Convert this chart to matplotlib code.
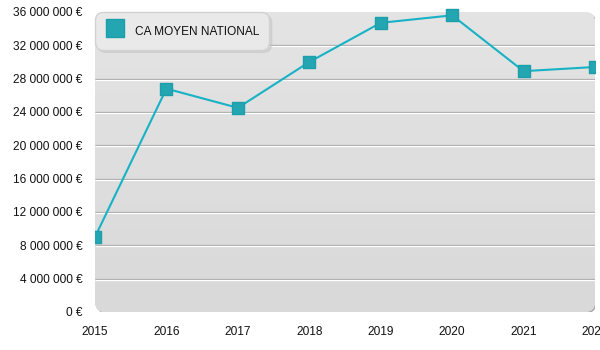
import numpy as np
import matplotlib
matplotlib.use('Agg')
from matplotlib import pyplot as plt
from matplotlib import transforms
from matplotlib.patches import FancyBboxPatch, Rectangle
from matplotlib.lines import Line2D
from matplotlib.markers import MarkerStyle
from matplotlib.ticker import FuncFormatter, MultipleLocator

years = [2015, 2016, 2017, 2018, 2019, 2020, 2021, 2022]
ca_moyen = [9.0e6, 26.8e6, 24.5e6, 30.0e6, 34.7e6, 35.6e6, 28.9e6, 29.4e6]
series_label = 'CA MOYEN NATIONAL'

plt.rcParams['font.family'] = ['Liberation Sans', 'DejaVu Sans']

line_color = '#17b2c5'
marker_color = '#23a6b2'
fs = 8.6

fig = plt.figure(figsize=(6, 3.5), dpi=100)
fig.patch.set_facecolor('white')

# plot panel, in inches
px, py, pw, ph = 0.95, 0.38, 5.0, 3.0
ax = fig.add_axes([px / 6, py / 3.5, pw / 6, ph / 3.5])
ax.set_facecolor('none')
for s in ax.spines.values():
    s.set_visible(False)

# rounded panel with a soft shadow on the right and bottom
shadow = FancyBboxPatch((px + 0.012, py - 0.012), pw, ph,
                        boxstyle='round,pad=0,rounding_size=0.1',
                        transform=fig.dpi_scale_trans, facecolor='#a9a9a9',
                        edgecolor='none', zorder=0)
panel = FancyBboxPatch((px, py), pw, ph,
                       boxstyle='round,pad=0,rounding_size=0.1',
                       transform=fig.dpi_scale_trans, facecolor='#e0e0e0',
                       edgecolor='none', zorder=0.1)
ax.add_patch(shadow)
ax.add_patch(panel)

grad = np.linspace(0, 1, 256).reshape(-1, 1)
img = ax.imshow(grad, extent=[0, 1, 0, 1], transform=ax.transAxes,
                aspect='auto', cmap=matplotlib.colors.LinearSegmentedColormap.from_list(
                    'panel', ['#d9d9d9', '#e4e4e4']),
                origin='lower', zorder=0.2)
img.set_clip_path(panel)

ax.set_xlim(2015, 2022)
ax.set_ylim(0, 36e6)

# grid lines: gray line with a white highlight underneath
grid_vals = np.arange(4e6, 36e6, 4e6)
below = transforms.offset_copy(ax.transData, fig=fig, x=0, y=-1, units='dots')
ax.hlines(grid_vals, 2015, 2022, colors='#a8a8a8', lw=0.9, zorder=0.5)
ax.hlines(grid_vals, 2015, 2022, colors='white', lw=0.9, zorder=0.5,
          transform=below)

# series, clipped only at the left/right edges of the panel
clip = Rectangle((0, -0.5), 1, 2, transform=ax.transAxes)
sq = MarkerStyle('s', joinstyle='round')
line, = ax.plot(years, ca_moyen, color=line_color, lw=1.5, zorder=2)
pts, = ax.plot(years, ca_moyen, linestyle='none', marker=sq, markersize=8.2,
               markerfacecolor=marker_color, markeredgecolor='#1e9eaa',
               markeredgewidth=1.0, zorder=3)
line.set_clip_path(clip)
pts.set_clip_path(clip)

ax.yaxis.set_major_locator(MultipleLocator(4e6))
ax.yaxis.set_major_formatter(FuncFormatter(
    lambda v, pos: '{:,.0f} €'.format(v).replace(',', ' ')))
ax.set_xticks(years)
ax.set_xticklabels([str(y) for y in years])
ax.tick_params(axis='y', length=0, pad=9, labelsize=fs, labelcolor='#111111')
ax.tick_params(axis='x', length=0, pad=10, labelsize=fs, labelcolor='#111111')

legend_handle = Line2D([], [], linestyle='none', marker=sq, markersize=13.5,
                       markerfacecolor=marker_color, markeredgecolor='#1e9eaa',
                       markeredgewidth=1.0, label=series_label)
leg = ax.legend(handles=[legend_handle],
                loc='upper left', bbox_to_anchor=(0, 1), borderaxespad=0,
                fontsize=fs, handlelength=1.7, handleheight=2.0,
                handletextpad=0.85, borderpad=0.8, fancybox=True,
                shadow={'color': '#c4c4c4'}, framealpha=1,
                facecolor='#e9e9e9', edgecolor='#d2d2d2')
leg.get_frame().set_boxstyle('round,pad=0,rounding_size=0.7')
leg.set_zorder(5)
for t in leg.get_texts():
    t.set_color('#111111')

fig.savefig('out.png', dpi=100)
